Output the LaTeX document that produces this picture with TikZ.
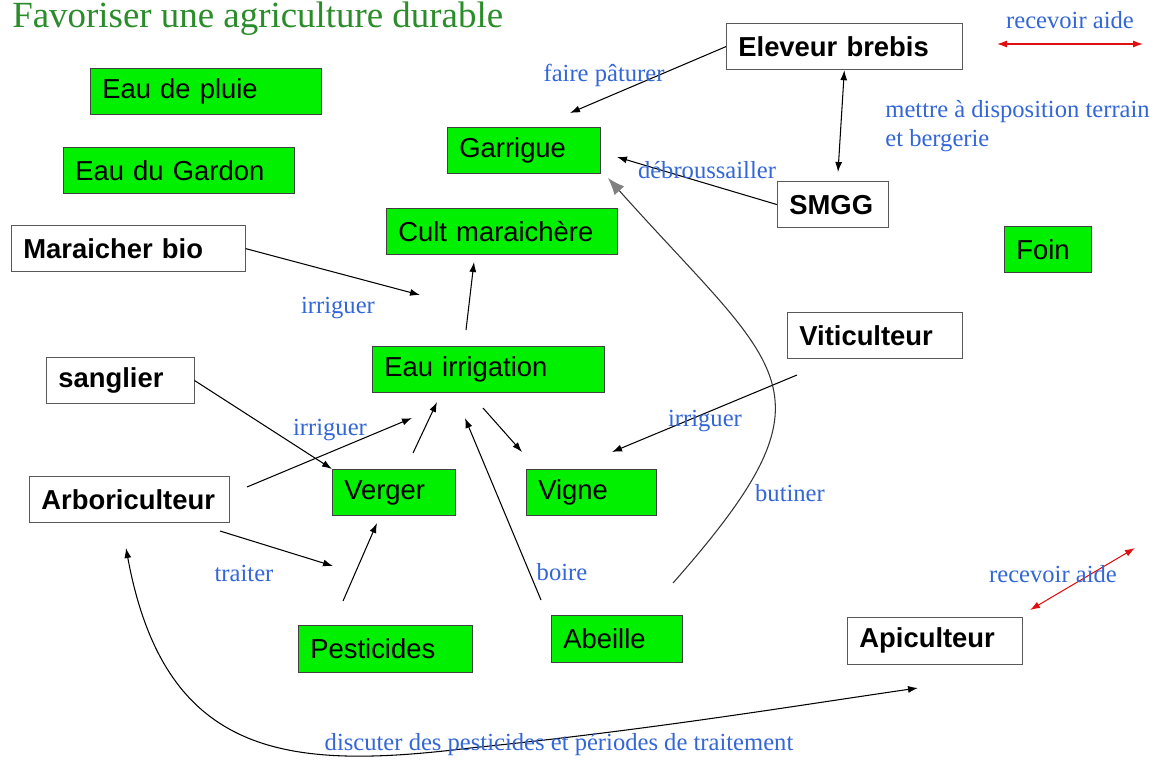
\documentclass[tikz,border=0pt]{standalone}
\usepackage{fontspec}
\setmainfont{Liberation Serif}
\setsansfont{Liberation Sans}
\usetikzlibrary{arrows.meta}
\definecolor{vert}{HTML}{00F000}
\definecolor{bleu}{HTML}{3366D6}
\definecolor{titre}{HTML}{2A8C2A}
\definecolor{rouge}{HTML}{E01010}
\hyphenpenalty=10000
\exhyphenpenalty=10000

\begin{document}
\begin{tikzpicture}[x=0.02cm,y=-0.02cm,
  gbox/.style={draw=black!75,fill=vert,anchor=north west,align=left,
    text width=#1,inner xsep=0.24cm,inner ysep=0pt,minimum height=0.93cm,
    font=\sffamily\fontsize{15.6}{18}\selectfont},
  wbox/.style={gbox=#1,draw=black!65,fill=white,
    font=\sffamily\bfseries\fontsize{15.6}{18}\selectfont},
  lbl/.style={text=bleu,inner sep=0pt,font=\fontsize{14}{16.5}\selectfont},
  arr/.style={-{Latex[length=2mm,width=1.4mm]},line width=0.6pt},
  both/.style={{Latex[length=2mm,width=1.4mm]}-{Latex[length=2mm,width=1.4mm]},line width=0.6pt},
  rboth/.style={{Latex[length=2mm,width=1.4mm,color=rouge]}-{Latex[length=2mm,width=1.4mm,color=rouge]},
    line width=0.6pt,draw=rouge}]
  \useasboundingbox (0,0) rectangle (1156,761);
  \node[anchor=base west,inner sep=0pt,text=titre,font=\fontsize{21}{24}\selectfont]
    (titre) at (12,27) {Favoriser une agriculture durable};
  % ressources
  \node[gbox=4.14cm] (pluie) at (90,68) {Eau de pluie};
  \node[gbox=4.14cm] (gardon) at (63,147) {Eau du Gardon};
  \node[gbox=2.58cm] (garrigue) at (447,127) {Garrigue};
  \node[gbox=4.14cm] (cult) at (386,208) {Cult maraichère};
  \node[gbox=1.26cm] (foin) at (1004,226) {Foin};
  \node[gbox=4.16cm] (irrig) at (372,346) {Eau irrigation};
  \node[gbox=1.98cm] (verger) at (332,469) {Verger};
  \node[gbox=2.12cm] (vigne) at (526,469) {Vigne};
  \node[gbox=3.0cm] (pest) at (298,625) {Pesticides};
  \node[gbox=2.14cm] (abeille) at (551,615) {Abeille};
  % acteurs
  \node[wbox=4.24cm] (eleveur) at (726,23) {Eleveur brebis};
  \node[wbox=1.74cm] (smgg) at (777,181) {SMGG};
  \node[wbox=4.20cm] (maraicher) at (11,225) {Maraicher bio};
  \node[wbox=3.02cm] (viti) at (787,312) {Viticulteur};
  \node[wbox=2.48cm] (sanglier) at (46,357) {sanglier};
  \node[wbox=3.52cm] (arbo) at (29,476) {Arboriculteur};
  \node[wbox=3.02cm] (apic) at (847,617) {Apiculteur};
  % extremites libres
  \coordinate (pat) at (570,113);
  \coordinate (smggtop) at (838,172);
  \coordinate (debr) at (617,157);
  \coordinate (marfin) at (420,295);
  \coordinate (irrhaut) at (466,330);
  \coordinate (cultbas) at (474,262);
  \coordinate (irrbas) at (483,408);
  \coordinate (vigne1) at (522,452);
  \coordinate (viti1) at (797,375);
  \coordinate (vigne2) at (612,452);
  \coordinate (arbo1) at (247,487);
  \coordinate (irr1) at (412,418);
  \coordinate (verger1) at (413,453);
  \coordinate (irr2) at (437,402);
  \coordinate (abeille1) at (541,600);
  \coordinate (irr3) at (465,418);
  \coordinate (arbo2) at (220,531);
  \coordinate (trait) at (333,566);
  \coordinate (pest1) at (343,601);
  \coordinate (verger2) at (377,523);
  \coordinate (abeille2) at (673,583);
  \coordinate (garr1) at (608,178);
  \coordinate (arbo3) at (126,548);
  \coordinate (apic1) at (918,688);
  \coordinate (leg1) at (997,44);
  \coordinate (leg2) at (1143,44);
  \coordinate (apic2) at (1030,610);
  \coordinate (aide2) at (1135,548);
  % liens
  \draw[arr] (eleveur.west) -- (pat);
  \draw[both] (eleveur.south) -- (smggtop);
  \draw[arr] (smgg.west) -- (debr);
  \draw[arr] (maraicher.east) -- (marfin);
  \draw[arr] (irrhaut) -- (cultbas);
  \draw[arr] (irrbas) -- (vigne1);
  \draw[arr] (viti1) -- (vigne2);
  \draw[arr] (sanglier.east) -- (verger.north west);
  \draw[arr] (arbo1) -- (irr1);
  \draw[arr] (verger1) -- (irr2);
  \draw[arr] (abeille1) -- (irr3);
  \draw[arr] (arbo2) -- (trait);
  \draw[arr] (pest1) -- (verger2);
  \draw[line width=0.6pt,draw=black!80,-{Latex[length=3.4mm,width=2.6mm,color=gray]}]
    (abeille2) .. controls (845,388) and (782,373) .. (garr1);
  \draw[both] (arbo3) .. controls (165,760) and (290,770) .. (470,748)
    .. controls (650,730) and (800,705) .. (apic1);
  \draw[rboth] (leg1) -- (leg2);
  \draw[rboth] (apic2) -- (aide2);
  % etiquettes
  \node[lbl] (lpat) at (604,75) {faire pâturer};
  \node[lbl,anchor=west,align=left] (lterrain) at (885,126)
    {mettre à disposition terrain\\et bergerie};
  \node[lbl] (ldebr) at (707,170) {débroussailler};
  \node[lbl] (lirr1) at (338,308) {irriguer};
  \node[lbl] (lirr2) at (330,430) {irriguer};
  \node[lbl] (lirr3) at (705,421) {irriguer};
  \node[lbl] (lbut) at (790,493) {butiner};
  \node[lbl] (lboire) at (562,572) {boire};
  \node[lbl] (ltrait) at (244,573) {traiter};
  \node[lbl] (laide1) at (1070,20) {recevoir aide};
  \node[lbl] (laide2) at (1053,574) {recevoir aide};
  \node[lbl] (ldisc) at (559,745) {discuter des pesticides et périodes de traitement};
\end{tikzpicture}
\end{document}
